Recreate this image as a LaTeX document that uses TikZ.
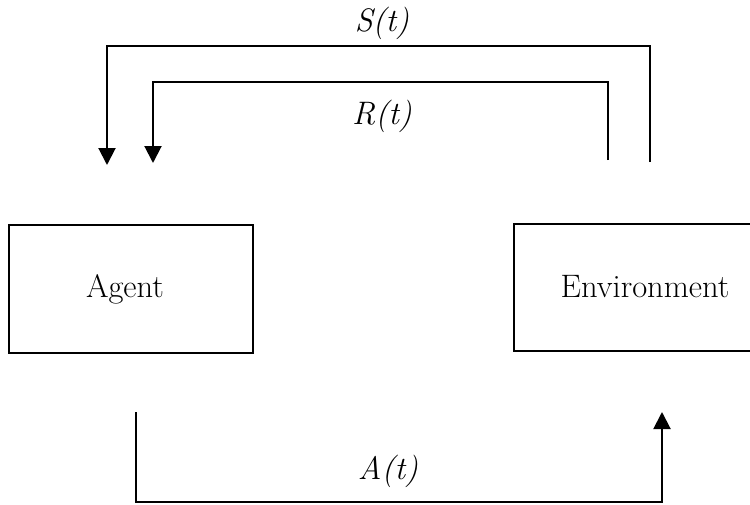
\documentclass[tikz,border=0pt]{standalone}
\usetikzlibrary{arrows.meta}
\begin{document}
\begin{tikzpicture}[x=1pt,y=-1pt,
  box/.style={draw,line width=2pt,minimum width=244pt,minimum height=128pt,inner sep=0pt,font=\fontsize{32.5}{38}\selectfont},
  lbl/.style={font=\fontsize{32.5}{38}\selectfont\itshape},
  conn/.style={line width=2pt,-{Triangle[length=17pt,width=17pt]}}]
\useasboundingbox (0,0) rectangle (750,504);
\node[box] (agent) at (131,289) {Agent\hspace*{12pt}};
\node[box,minimum width=262pt,minimum height=127pt] (env) at (645,287) {Environment};
\coordinate (s0) at (650,162);
\coordinate (s1) at (107,165);
\coordinate (r0) at (608,160);
\coordinate (r1) at (153,163);
\coordinate (a0) at (136,412);
\coordinate (a1) at (662,412);
\draw[conn] (s0) |- (107,46) -- (s1);
\draw[conn] (r0) |- (153,82) -- (r1);
\draw[conn] (a0) |- (662,502) -- (a1);
\node[lbl] (st) at (382,23) {S(t)};
\node[lbl] (rt) at (382,116) {R(t)};
\node[lbl] (at) at (388,471) {A(t)};
\end{tikzpicture}
\end{document}
